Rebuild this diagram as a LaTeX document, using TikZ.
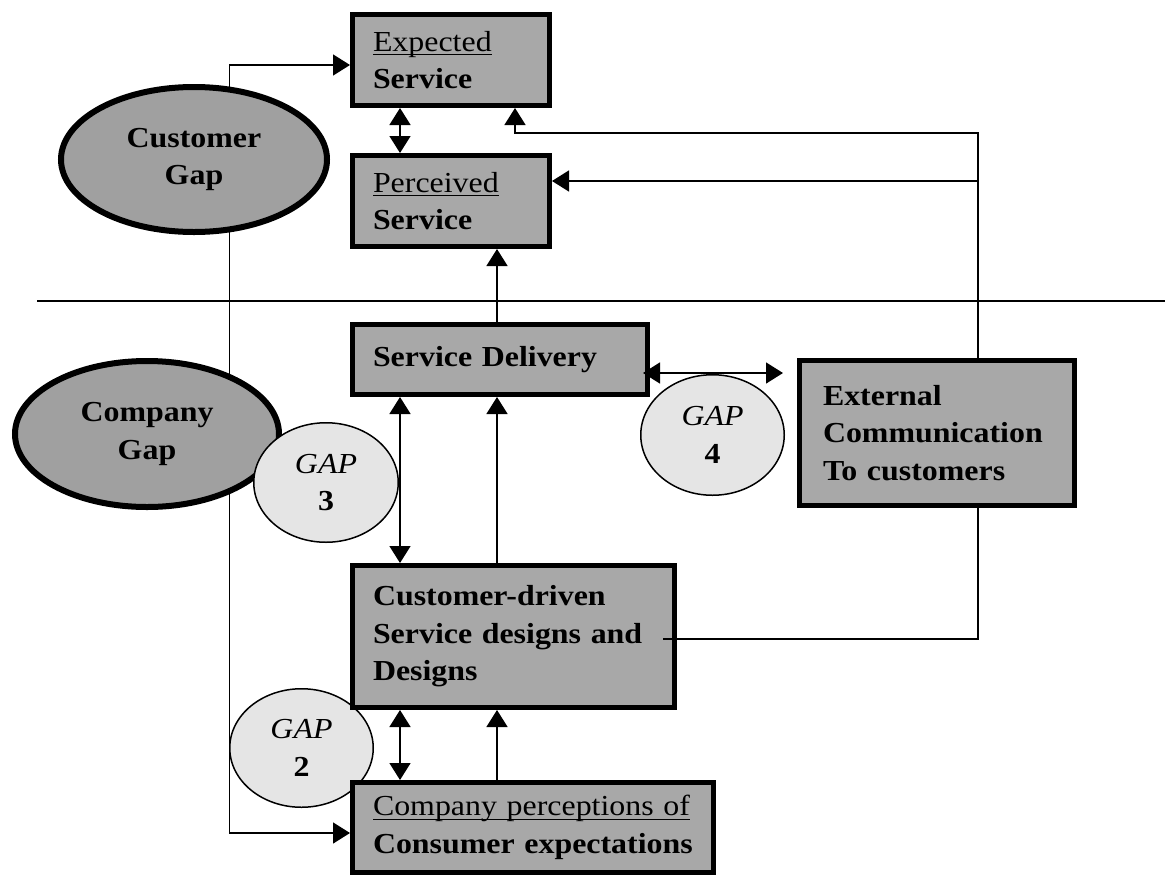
\documentclass[tikz,border=0pt]{standalone}
\usepackage{fontspec}
\setmainfont{Liberation Serif}[FakeStretch=1.1]
\usetikzlibrary{arrows.meta,shapes.geometric,backgrounds,calc}
\definecolor{boxgray}{RGB}{168,168,168}
\definecolor{ovalgray}{RGB}{160,160,160}
\definecolor{gapfill}{RGB}{229,229,229}
\newcommand{\ulword}[1]{\setbox0\hbox{#1}\rlap{\rule[-4pt]{\wd0}{1.3pt}}#1}
\begin{document}
\begin{tikzpicture}[x=1pt,y=-1pt,
  txt/.style={font=\fontsize{29}{37.5}\selectfont},
  box/.style={txt,draw,line width=5pt,fill=boxgray,inner sep=0pt,align=left},
  bigoval/.style={txt,ellipse,draw,line width=6pt,fill=ovalgray,inner sep=0pt,align=center},
  gapoval/.style={txt,ellipse,draw,line width=1.5pt,fill=gapfill,inner sep=0pt,align=center},
  conn/.style={line width=1.5pt},
  >={Triangle[length=17pt,width=21pt]}]
\useasboundingbox (0,0) rectangle (1165,884);
% guide coordinates
\coordinate (cL) at (229.5,0);
\coordinate (c400) at (400,0);
\coordinate (c497) at (497,0);
\coordinate (c515) at (515,0);
\coordinate (c978) at (978,0);
\coordinate (y65) at (0,65);
\coordinate (y133) at (0,133);
\coordinate (y181) at (0,181);
\coordinate (y373) at (0,373);
\coordinate (y639) at (0,639);
\coordinate (y833) at (0,833);
\coordinate (divL) at (37,301);
\coordinate (divR) at (1165,301);
% ovals
\node[bigoval,minimum width=266pt,minimum height=145pt] (cg) at (194,159.5) {\textbf{Customer}\\\textbf{Gap}};
\node[bigoval,minimum width=264pt,minimum height=146pt] (cog) at (147,434) {\textbf{Company}\\\textbf{Gap}};
\node[gapoval,minimum width=143.5pt,minimum height=118.5pt] (g2) at (301.5,748) {\textit{GAP}\\\textbf{2}};
\node[gapoval,minimum width=144.5pt,minimum height=119.5pt] (g3) at (326,482.5) {\textit{GAP}\\\textbf{3}};
\node[gapoval,minimum width=143.5pt,minimum height=120.5pt] (g4) at (712.5,435) {\textit{GAP}\\\textbf{4}};
% boxes
\node[box,minimum width=197pt,minimum height=91pt,text width=156pt] (exp) at (451,60) {\ulword{Expected}\\\textbf{Service}};
\node[box,minimum width=197pt,minimum height=91pt,text width=156pt] (per) at (451,201) {\ulword{Perceived}\\\textbf{Service}};
\node[box,minimum width=295pt,minimum height=70pt,text width=254pt] (sd) at (500,359.5) {\textbf{Service Delivery}};
\node[box,minimum width=322pt,minimum height=142pt,text width=281pt] (cd) at (513.5,636.5) {\textbf{\mbox{Customer-driven}}\\\textbf{\mbox{Service designs and}}\\\textbf{Designs}};
\node[box,minimum width=361pt,minimum height=90pt,text width=320pt] (cp) at (533,827.5) {\mbox{\ulword{Company perceptions of}}\\\textbf{\mbox{Consumer expectations}}};
\node[box,minimum width=275pt,minimum height=145pt,text width=228pt] (ext) at (937,433) {\textbf{External}\\\textbf{\mbox{Communication}}\\\textbf{\mbox{To customers}}};
% connectors behind the ovals
\begin{scope}[on background layer]
\draw[conn,->] (cg.center -| cL) |- (exp.west |- y65);
\draw[conn,->] (cg.center -| cL) |- (cp.west |- y833);
\end{scope}
\draw[conn] (divL) -- (divR);
\draw[conn,<->] (exp.south -| c400) -- (per.north -| c400);
\draw[conn,->] (sd.north -| c497) -- (per.south -| c497);
\draw[conn,->] (ext.north -| c978) -- (c978 |- y133) -- (c515 |- y133) -- (exp.south -| c515);
\draw[conn,->] (c978 |- y181) -- (per.east |- y181);
\coordinate (sdR) at ($(sd.east |- y373)+(-7,0)$);
\coordinate (extL) at ($(ext.west |- y373)+(-14,0)$);
\draw[conn,<->] (sdR) -- (extL);
\draw[conn,<->] (sd.south -| c400) -- (cd.north -| c400);
\draw[conn,->] (cd.north -| c497) -- (sd.south -| c497);
\draw[conn,<->] (cd.south -| c400) -- (cp.north -| c400);
\draw[conn,->] (cp.north -| c497) -- (cd.south -| c497);
\coordinate (cdR) at ($(cd.east |- y639)+(-14,0)$);
\draw[conn] (cdR) -| (ext.south -| c978);
\end{tikzpicture}
\end{document}
